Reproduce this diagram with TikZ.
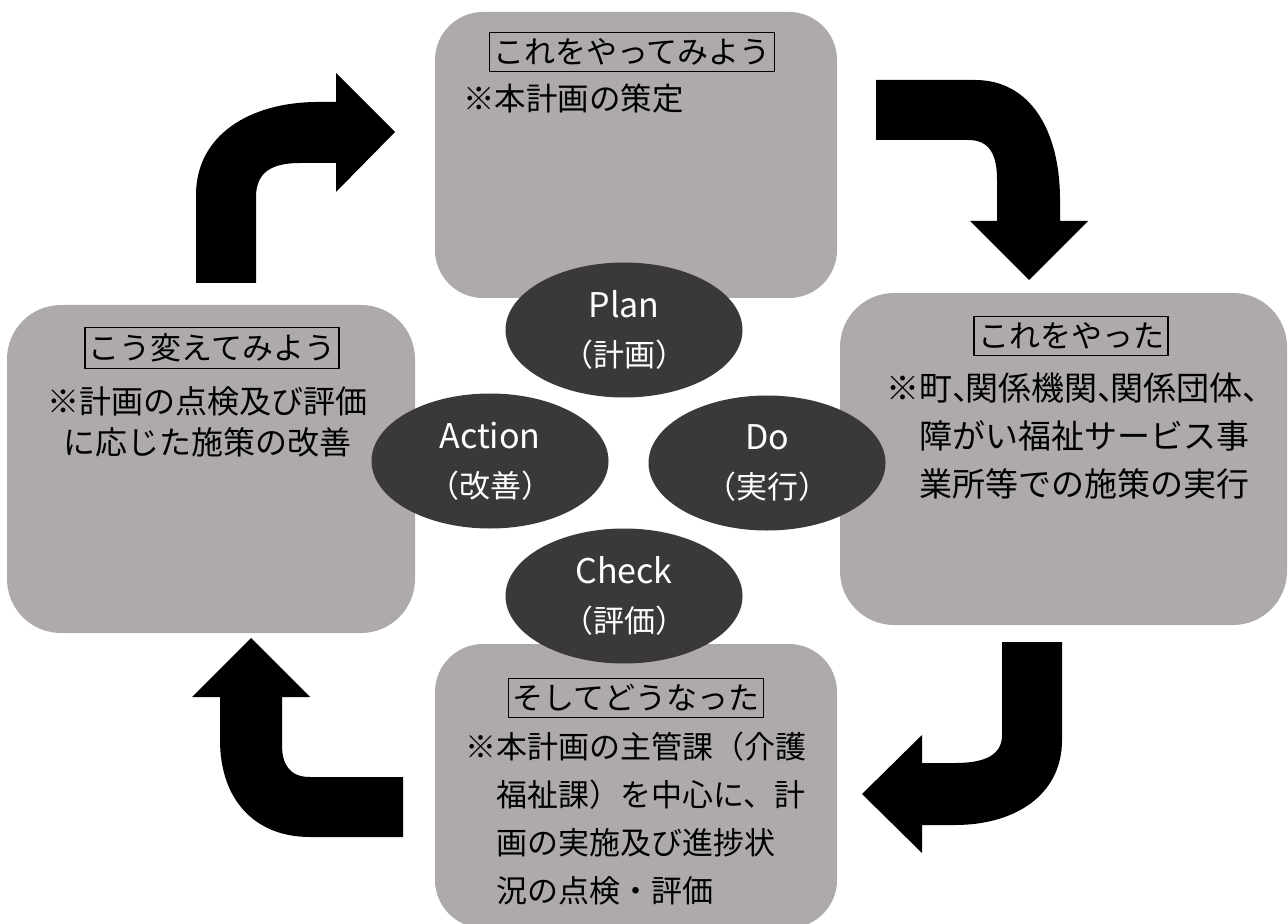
\documentclass[tikz,border=0pt]{standalone}
\usepackage{fontspec}
\setmainfont{Noto Sans CJK JP}
\usetikzlibrary{shapes.geometric}
\definecolor{boxgray}{RGB}{174,170,170}
\definecolor{ovaldark}{RGB}{59,56,56}
\newcommand\tc{\makebox[0.4em][l]{、}}
\begin{document}
\begin{tikzpicture}[x=0.5pt, y=-0.5pt, line join=round,
    oval/.style={ellipse, fill=ovaldark, text=white, minimum width=118.5pt, minimum height=67.5pt,
      inner sep=0pt, align=center, font=\fontsize{15.5pt}{24.5pt}\selectfont},
    ttl/.style={draw, line width=0.75pt, inner xsep=2pt, inner ysep=3pt, font=\fontsize{15.5pt}{18pt}\selectfont},
    body/.style={inner sep=0pt, align=left, anchor=north west}]
    \useasboundingbox (0,0) rectangle (1288,924);
    % four boxes
    \foreach \a/\b/\c/\d/\r in {435/12/837/298/24, 840/293/1287/625/27, 435/644/837/928/24, 7/305/415/633/27}
        \fill[boxgray, rounded corners=\r pt] (\a,\b) rectangle (\c,\d);
    % bent arrows
    \fill (196,283) -- (196,195) .. controls (196,135) and (250,102) .. (318,102) -- (336,102) -- (336,73)
        -- (395,132) -- (336,192) -- (336,163) -- (300,163) .. controls (272,163) and (256,172) .. (256,197)
        -- (256,283) -- cycle;
    \fill (876,80) -- (975,80) .. controls (1030,80) and (1060,130) .. (1060,200) -- (1060,221) -- (1088,221)
        -- (1029,280) -- (970,221) -- (997,221) -- (997,180) .. controls (997,155) and (990,140) .. (968,140)
        -- (876,140) -- cycle;
    \fill (1002,642) -- (1062,642) -- (1062,740) .. controls (1062,795) and (1015,825) .. (955,825) -- (922,825)
        -- (922,853) -- (862,794) -- (922,735) -- (922,763) -- (955,763) .. controls (985,763) and (1002,755) .. (1002,735)
        -- cycle;
    \fill (403,777) -- (310,777) .. controls (290,777) and (282,765) .. (282,745) -- (282,697) -- (310,697)
        -- (251,638) -- (192,697) -- (220,697) -- (220,740) .. controls (220,800) and (255,837) .. (310,837)
        -- (403,837) -- cycle;
    % PDCA ovals
    \foreach \n/\x/\y/\en/\jp in {plan/624/330/Plan/計画, action/490/461/Action/改善, do/767/463/Do/実行, check/624/596/Check/評価}
        \node[oval] (\n) at (\x,\y) {{\fontsize{17pt}{24.5pt}\selectfont\en}\\（\jp）};
    % titles
    \node[ttl] (ttlP) at (632,52) {これをやってみよう};
    \node[ttl] (ttlD) at (1071,336) {これをやった};
    \node[ttl] (ttlC) at (636,698) {そしてどうなった};
    \node[ttl] (ttlA) at (212,348) {こう変えてみよう};
    % notes
    \node[body, font=\fontsize{15.75pt}{24pt}\selectfont] (txtP) at (463,84) {※本計画の策定};
    \node[body, font=\fontsize{16.5pt}{24pt}\selectfont] (txtD) at (886,372)
        {※町\tc 関係機関\tc 関係団体\tc\\\hspace*{1em}障がい福祉サービス事\\\hspace*{1em}業所等での施策の実行};
    \node[body, font=\fontsize{15.5pt}{24pt}\selectfont] (txtC) at (465,732)
        {※本計画の主管課（介護\\\hspace*{1em}福祉課）を中心に、計\\\hspace*{1em}画の実施及び進捗状\\\hspace*{1em}況の点検・評価};
    \node[inner sep=0pt, align=center, font=\fontsize{16pt}{20.5pt}\selectfont] (txtA) at (207,422)
        {※計画の点検及び評価\\に応じた施策の改善};
\end{tikzpicture}
\end{document}
